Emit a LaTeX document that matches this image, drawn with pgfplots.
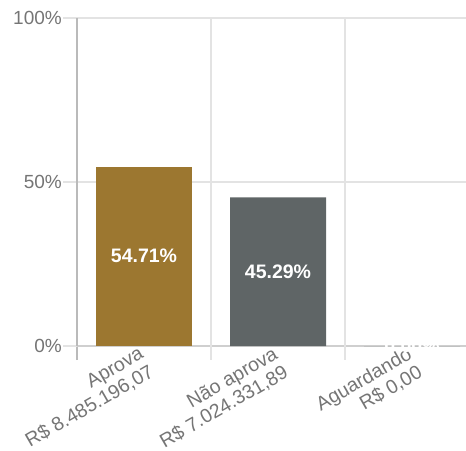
\documentclass[border=0pt]{standalone}
\usepackage{pgfplots}
\pgfplotsset{compat=1.18}
\usepackage{fontspec}
\setmainfont{Liberation Sans}
\definecolor{gold}{HTML}{9C7730}
\definecolor{slate}{HTML}{5F6566}
\definecolor{lbl}{HTML}{757575}
\definecolor{grd}{HTML}{E3E3E3}
\definecolor{axl}{HTML}{BABABA}

\begin{document}
\begin{tikzpicture}
\begin{axis}[
    at={(0pt,0pt)}, anchor=south west,
    scale only axis,
    width=389pt, height=328pt,
    xmin=-0.5, xmax=2.403,
    ymin=0, ymax=100,
    axis x line*=bottom,
    axis y line*=left,
    x axis line style={draw=axl!70, line width=1.3pt},
    y axis line style={draw=axl, line width=1.3pt},
    tick align=outside,
    major tick length=14pt,
    minor tick length=14pt,
    ytick={0,50,100},
    yticklabels={0\%,50\%,100\%},
    ymajorgrids=true,
    grid style={draw=grd, line width=1.3pt},
    ytick style={draw=grd, line width=1.3pt},
    xtick={0,1,2},
    xticklabels={{Aprova\\R\$ 8.485.196,07},{Não aprova\\R\$ 7.024.331,89},{Aguardando\\R\$ 0,00}},
    xtick style={draw=none},
    minor xtick={-0.5},
    minor x tick style={draw=axl, line width=1.3pt},
    extra x ticks={0.5,1.5},
    extra x tick labels={},
    extra x tick style={xmajorgrids=true, xtick style={draw=grd, line width=1.3pt}},
    ticklabel style={font=\fontsize{19}{22}\selectfont, text=lbl},
    yticklabel style={anchor=east, inner sep=1pt},
    xticklabel style={rotate=30, anchor=north east, align=right, inner sep=0pt,
        font=\fontsize{19.5}{21}\selectfont, xshift=2pt, yshift=15.5pt},
    /pgf/number format/assume math mode=true,
]
\addplot[ybar, bar width=96pt, fill=gold, draw=none, bar shift=0pt] coordinates {(0,54.71)};
\addplot[ybar, bar width=96pt, fill=slate, draw=none, bar shift=0pt] coordinates {(1,45.29) (2,0)};
\addplot[draw=none, mark=none, point meta=explicit symbolic,
    nodes near coords,
    every node near coord/.append style={anchor=center, text=white, font=\bfseries\fontsize{19.5}{22}\selectfont}]
    coordinates {(0,27.355)[54.71\%] (1,22.645)[45.29\%] (2,0)[0.00\%]};
\end{axis}
\pgfresetboundingbox
\path[use as bounding box] (-77pt,-104pt) rectangle (389pt,346pt);
\end{tikzpicture}
\end{document}
